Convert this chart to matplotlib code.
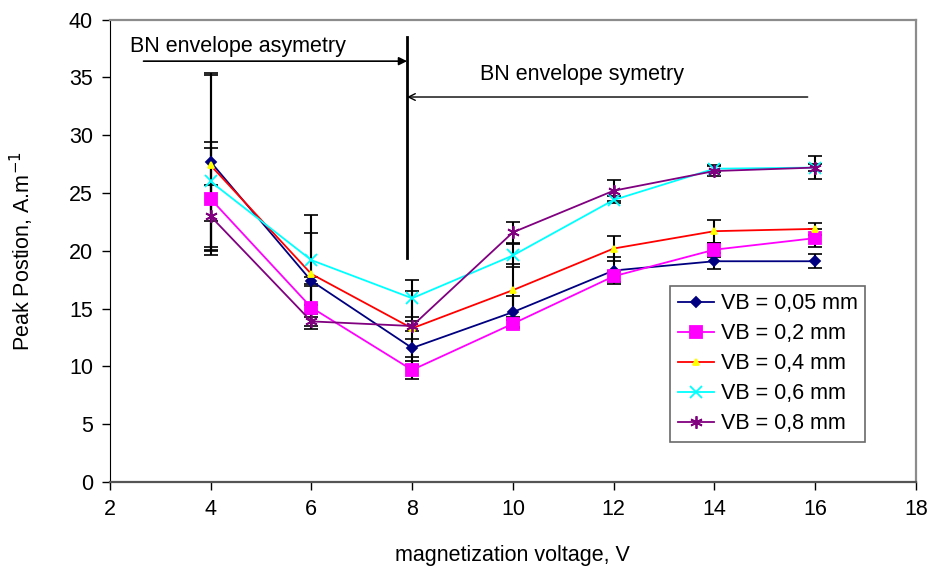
import matplotlib
matplotlib.use("Agg")
import matplotlib.pyplot as plt

plt.rcParams['font.family'] = ['Liberation Sans', 'DejaVu Sans']
plt.rcParams['font.size'] = 15.5

voltage = [4, 6, 8, 10, 12, 14, 16]

labels = ["VB = 0,05 mm", "VB = 0,2 mm", "VB = 0,4 mm", "VB = 0,6 mm", "VB = 0,8 mm"]

peak_005 = [27.7, 17.4, 11.6, 14.7, 18.3, 19.1, 19.1]
peak_02 = [24.5, 15.1, 9.7, 13.7, 17.8, 20.1, 21.1]
peak_04 = [27.4, 18.0, 13.3, 16.6, 20.2, 21.7, 21.9]
peak_06 = [26.0, 19.2, 15.9, 19.6, 24.4, 27.1, 27.2]
peak_08 = [23.0, 13.9, 13.5, 21.6, 25.2, 26.9, 27.2]

err_005 = [7.7, 0.3, 0.8, 1.4, 1.2, 0.7, 0.6]
err_02 = [4.4, 1.9, 0.8, 0.3, 0.5, 0.6, 0.8]
err_04 = [7.8, 3.5, 3.2, 2.3, 1.1, 1.0, 0.5]
err_06 = [3.4, 3.9, 1.6, 1.0, 0.3, 0.3, 0.3]
err_08 = [2.7, 0.4, 0.4, 0.9, 0.9, 0.4, 1.0]

# line colour, marker, marker face colour, marker size
styles = [
    ("#000080", "D", "#000080", 5.5),
    ("#FF00FF", "s", "#FF00FF", 8.5),
    ("#FF0000", "^", "#FFFF00", 5),
    ("#00FFFF", "x", "#00FFFF", 8),
    ("#800080", (6, 2, 0), "#800080", 9),
]

fig = plt.figure(figsize=(9.3, 5.74), dpi=100)
ax = fig.add_axes([0.118, 0.160, 0.867, 0.806])

series = [peak_005, peak_02, peak_04, peak_06, peak_08]
errors = [err_005, err_02, err_04, err_06, err_08]

for vals, errs, lab, (lc, mk, mfc, ms) in zip(series, errors, labels, styles):
    ax.errorbar(voltage, vals, yerr=errs, fmt="none", ecolor="black",
                elinewidth=1.5, capsize=5, capthick=1.2, zorder=2)
    ax.plot(voltage, vals, color=lc, lw=1.3, marker=mk, markersize=ms,
            markerfacecolor=mfc, markeredgecolor=mfc, mew=1.3, label=lab,
            zorder=3)

# region markers
ax.plot([7.9, 7.9], [19.4, 38.5], color="black", lw=2, zorder=4)
ax.annotate("", xy=(7.9, 36.4), xytext=(2.67, 36.4),
            arrowprops=dict(arrowstyle="-|>", color="black", lw=1.2,
                            shrinkA=0, shrinkB=0, mutation_scale=12))
ax.annotate("", xy=(7.9, 33.3), xytext=(15.85, 33.3),
            arrowprops=dict(arrowstyle="->", color="black", lw=1.0,
                            shrinkA=0, shrinkB=0, mutation_scale=12))
ax.text(2.4, 37.2, "BN envelope asymetry", va="baseline", ha="left")
ax.text(9.34, 34.8, "BN envelope symetry", va="baseline", ha="left")

ax.set_xlim(2, 18)
ax.set_ylim(0, 40)
ax.set_xticks(range(2, 19, 2))
ax.set_yticks(range(0, 41, 5))
ax.tick_params(direction="out", length=6, width=1, pad=6)

ax.spines["left"].set_color("black")
ax.spines["bottom"].set_color("#555555")
ax.spines["bottom"].set_linewidth(1.6)
for side in ("top", "right"):
    ax.spines[side].set_color("#8c8c8c")
    ax.spines[side].set_linewidth(1.6)

ax.set_xlabel("magnetization voltage, V", labelpad=18)
ax.set_ylabel("Peak Postion, A.m$^{-1}$", labelpad=24)

leg = ax.legend(loc="lower right", bbox_to_anchor=(0.937, 0.087),
                frameon=True, fancybox=False, handlelength=1.7,
                handletextpad=0.3, borderpad=0.35, labelspacing=0.42,
                borderaxespad=0)
leg.get_frame().set_edgecolor("#444444")
leg.get_frame().set_linewidth(1.2)

fig.savefig("out.png", dpi=100)
